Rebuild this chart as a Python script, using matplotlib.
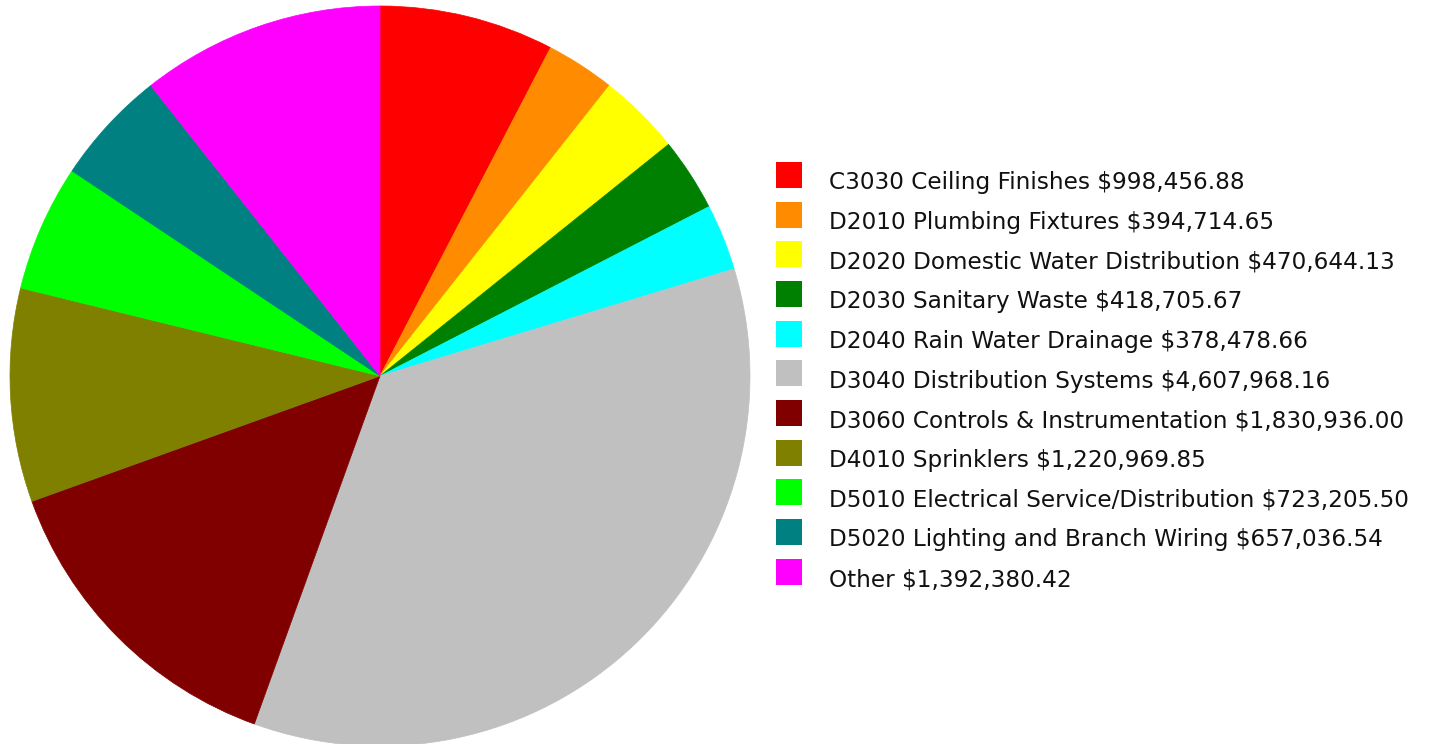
import matplotlib.pyplot as plt
from matplotlib.patches import Rectangle

labels = [
    "C3030 Ceiling Finishes",
    "D2010 Plumbing Fixtures",
    "D2020 Domestic Water Distribution",
    "D2030 Sanitary Waste",
    "D2040 Rain Water Drainage",
    "D3040 Distribution Systems",
    "D3060 Controls & Instrumentation",
    "D4010 Sprinklers",
    "D5010 Electrical Service/Distribution",
    "D5020 Lighting and Branch Wiring",
    "Other",
]
costs = [998456.88, 394714.65, 470644.13, 418705.67, 378478.66, 4607968.16,
         1830936.00, 1220969.85, 723205.50, 657036.54, 1392380.42]
colors = ["#FF0000", "#FF8C00", "#FFFF00", "#008000", "#00FFFF", "#C0C0C0",
          "#800000", "#808000", "#00FF00", "#008080", "#FF00FF"]

W, H = 1429, 744
fig = plt.figure(figsize=(W / 100, H / 100), dpi=100)

# pie centred at (380, 376) px with a 370 px radius
cx, cy, r = 380, 376, 370
ax = fig.add_axes([(cx - r) / W, (H - cy - r) / H, 2 * r / W, 2 * r / H])
wedges, _ = ax.pie(costs, colors=colors, startangle=90, counterclock=False,
                   radius=1, wedgeprops={"linewidth": 0.5})
for w in wedges:
    w.set_edgecolor(w.get_facecolor())
ax.set_xlim(-1, 1)
ax.set_ylim(-1, 1)
ax.set_aspect("equal")
ax.axis("off")

# legend: coloured squares with cost labels
box = 26
row0, step = 175, 39.65
for i, (lab, val, col) in enumerate(zip(labels, costs, colors)):
    yc = row0 + i * step
    fig.patches.append(Rectangle((776 / W, (H - yc - box / 2) / H), box / W, box / H,
                                 transform=fig.transFigure, facecolor=col,
                                 edgecolor="none"))
    fig.text(829 / W, (H - yc - 14.5) / H, f"{lab} ${val:,.2f}", fontsize=16.7,
             family="DejaVu Sans", va="baseline", ha="left", color="#111111")

fig.savefig("out.png", dpi=100)
